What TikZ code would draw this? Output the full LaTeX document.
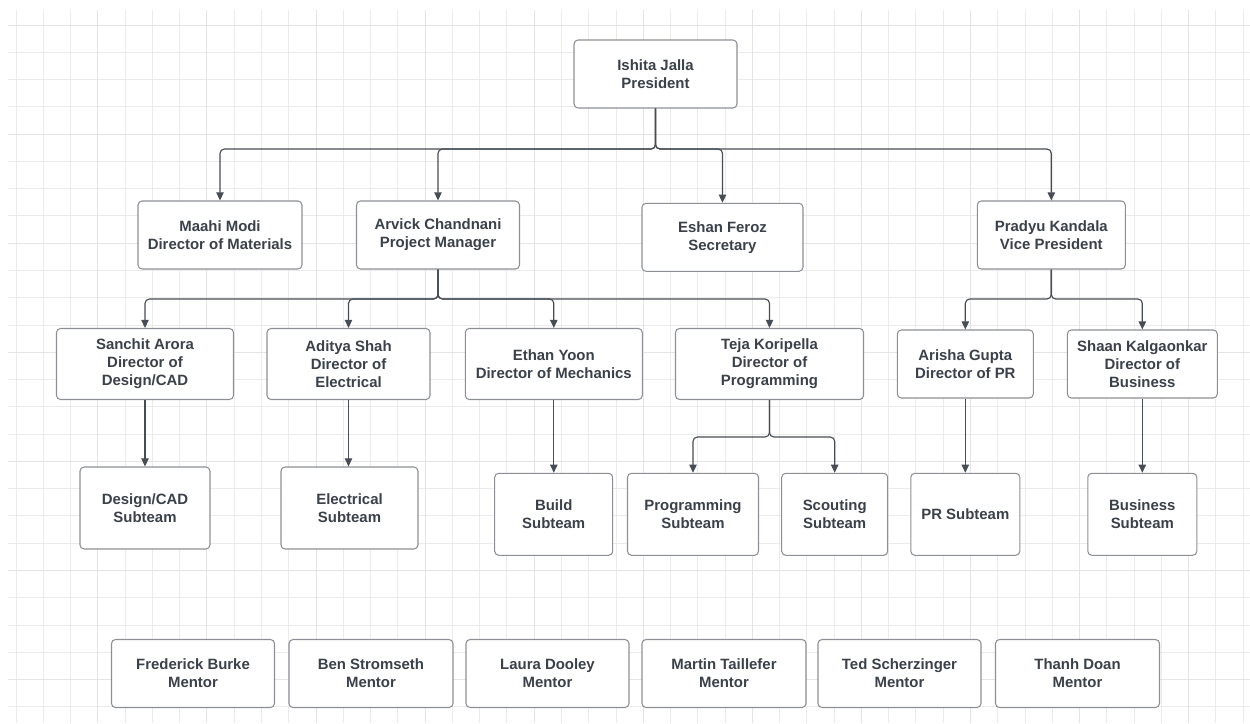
\documentclass[tikz,border=0pt]{standalone}
\usepackage{fontspec}
\setmainfont{Liberation Sans}
\usetikzlibrary{arrows.meta}
\definecolor{txtc}{HTML}{3A414A}
\definecolor{boxc}{HTML}{8C9096}
\definecolor{linec}{HTML}{474D55}
\definecolor{gridminor}{HTML}{EBEBEC}
\definecolor{gridmajor}{HTML}{E4E4E6}
\begin{document}
\begin{tikzpicture}[x=0.02cm,y=-0.02cm,
  box/.style={draw=boxc, line width=0.6pt, rounded corners=2.3pt, fill=white,
    align=center, text=txtc, inner sep=0pt,
    font=\fontsize{8.5}{10.2}\selectfont\bfseries},
  sz/.style 2 args={minimum width={#1*0.02cm}, minimum height={#2*0.02cm}},
  conn/.style={draw=linec, line width=0.65pt, rounded corners=2.5pt,
    -{Triangle[length=4.6pt,width=4.2pt]}},
  gmin/.style={draw=gridminor, line width=0.5pt},
  gmaj/.style={draw=gridmajor, line width=0.5pt}]
\useasboundingbox (0,0) rectangle (1250,723);
% grid
\foreach \k in {0,...,45} {\draw[gmin] ({16+27.27*\k},10) -- ({16+27.27*\k},723);}
\foreach \k in {0,...,25} {\draw[gmin] (8,{25+27.27*\k}) -- (1250,{25+27.27*\k});}
\foreach \k in {3,7,...,43} {\draw[gmaj] ({16+27.27*\k},10) -- ({16+27.27*\k},723);}
\foreach \k in {0,4,...,24} {\draw[gmaj] (8,{25+27.27*\k}) -- (1250,{25+27.27*\k});}
% bus levels
\coordinate (bus1) at (0,149);
\coordinate (bus2) at (0,299);
\coordinate (bus3) at (0,299);
\coordinate (bus4) at (0,437);
% level 1
\node[box, sz={163}{68}] (pres) at (655.5,74) {Ishita Jalla\\President};
% level 2
\node[box, sz={164}{68}] (maahi) at (220,235) {Maahi Modi\\Director of Materials};
\node[box, sz={163}{68}] (arvick) at (438,235) {Arvick Chandnani\\Project Manager};
\node[box, sz={161}{68}] (eshan) at (722.5,237.3) {Eshan Feroz\\Secretary};
\node[box, sz={148}{68}] (pradyu) at (1051.3,235) {Pradyu Kandala\\Vice President};
% level 3
\node[box, sz={177}{71}] (sanchit) at (145,364) {Sanchit Arora\\Director of\\Design/CAD};
\node[box, sz={163}{71}] (aditya) at (348.5,364) {Aditya Shah\\Director of\\Electrical};
\node[box, sz={177}{71}] (ethan) at (553.8,364) {Ethan Yoon\\Director of Mechanics};
\node[box, sz={188}{71}] (teja) at (769.5,364) {Teja Koripella\\Director of\\Programming};
\node[box, sz={136}{68}] (arisha) at (965.3,364) {Arisha Gupta\\Director of PR};
\node[box, sz={150}{68}] (shaan) at (1142.3,364) {Shaan Kalgaonkar\\Director of\\Business};
% level 4
\node[box, sz={130}{82}] (design) at (145,508) {Design/CAD\\Subteam};
\node[box, sz={137}{82}] (elec) at (349.5,508) {Electrical\\Subteam};
\node[box, sz={118}{82}] (build) at (553.7,514.3) {Build\\Subteam};
\node[box, sz={131}{82}] (prog) at (693,514.3) {Programming\\Subteam};
\node[box, sz={106}{82}] (scout) at (834.7,514.3) {Scouting\\Subteam};
\node[box, sz={109}{82}] (pr) at (965.3,514.3) {PR Subteam};
\node[box, sz={109}{82}] (business) at (1142.3,514.3) {Business\\Subteam};
% mentors
\node[box, sz={163}{68}] (m1) at (193,673.5) {Frederick Burke\\Mentor};
\node[box, sz={164}{68}] (m2) at (371,673.5) {Ben Stromseth\\Mentor};
\node[box, sz={163}{68}] (m3) at (547.5,673.5) {Laura Dooley\\Mentor};
\node[box, sz={164}{68}] (m4) at (724,673.5) {Martin Taillefer\\Mentor};
\node[box, sz={163}{68}] (m5) at (899.5,673.5) {Ted Scherzinger\\Mentor};
\node[box, sz={164}{68}] (m6) at (1077.5,673.5) {Thanh Doan\\Mentor};
% connectors
\foreach \t in {maahi,arvick,eshan,pradyu}
  \draw[conn] (pres.south) -- (pres.south |- bus1) -| (\t.north);
\foreach \t in {sanchit,aditya,ethan,teja}
  \draw[conn] (arvick.south) -- (arvick.south |- bus2) -| (\t.north);
\foreach \t in {arisha,shaan}
  \draw[conn] (pradyu.south) -- (pradyu.south |- bus3) -| (\t.north);
\foreach \t in {prog,scout}
  \draw[conn] (teja.south) -- (teja.south |- bus4) -| (\t.north);
\draw[conn] (sanchit.south) -- (design.north);
\draw[conn] (aditya.south) -- (aditya.south |- elec.north);
\draw[conn] (ethan.south) -- (ethan.south |- build.north);
\draw[conn] (arisha.south) -- (arisha.south |- pr.north);
\draw[conn] (shaan.south) -- (shaan.south |- business.north);
\end{tikzpicture}
\end{document}
